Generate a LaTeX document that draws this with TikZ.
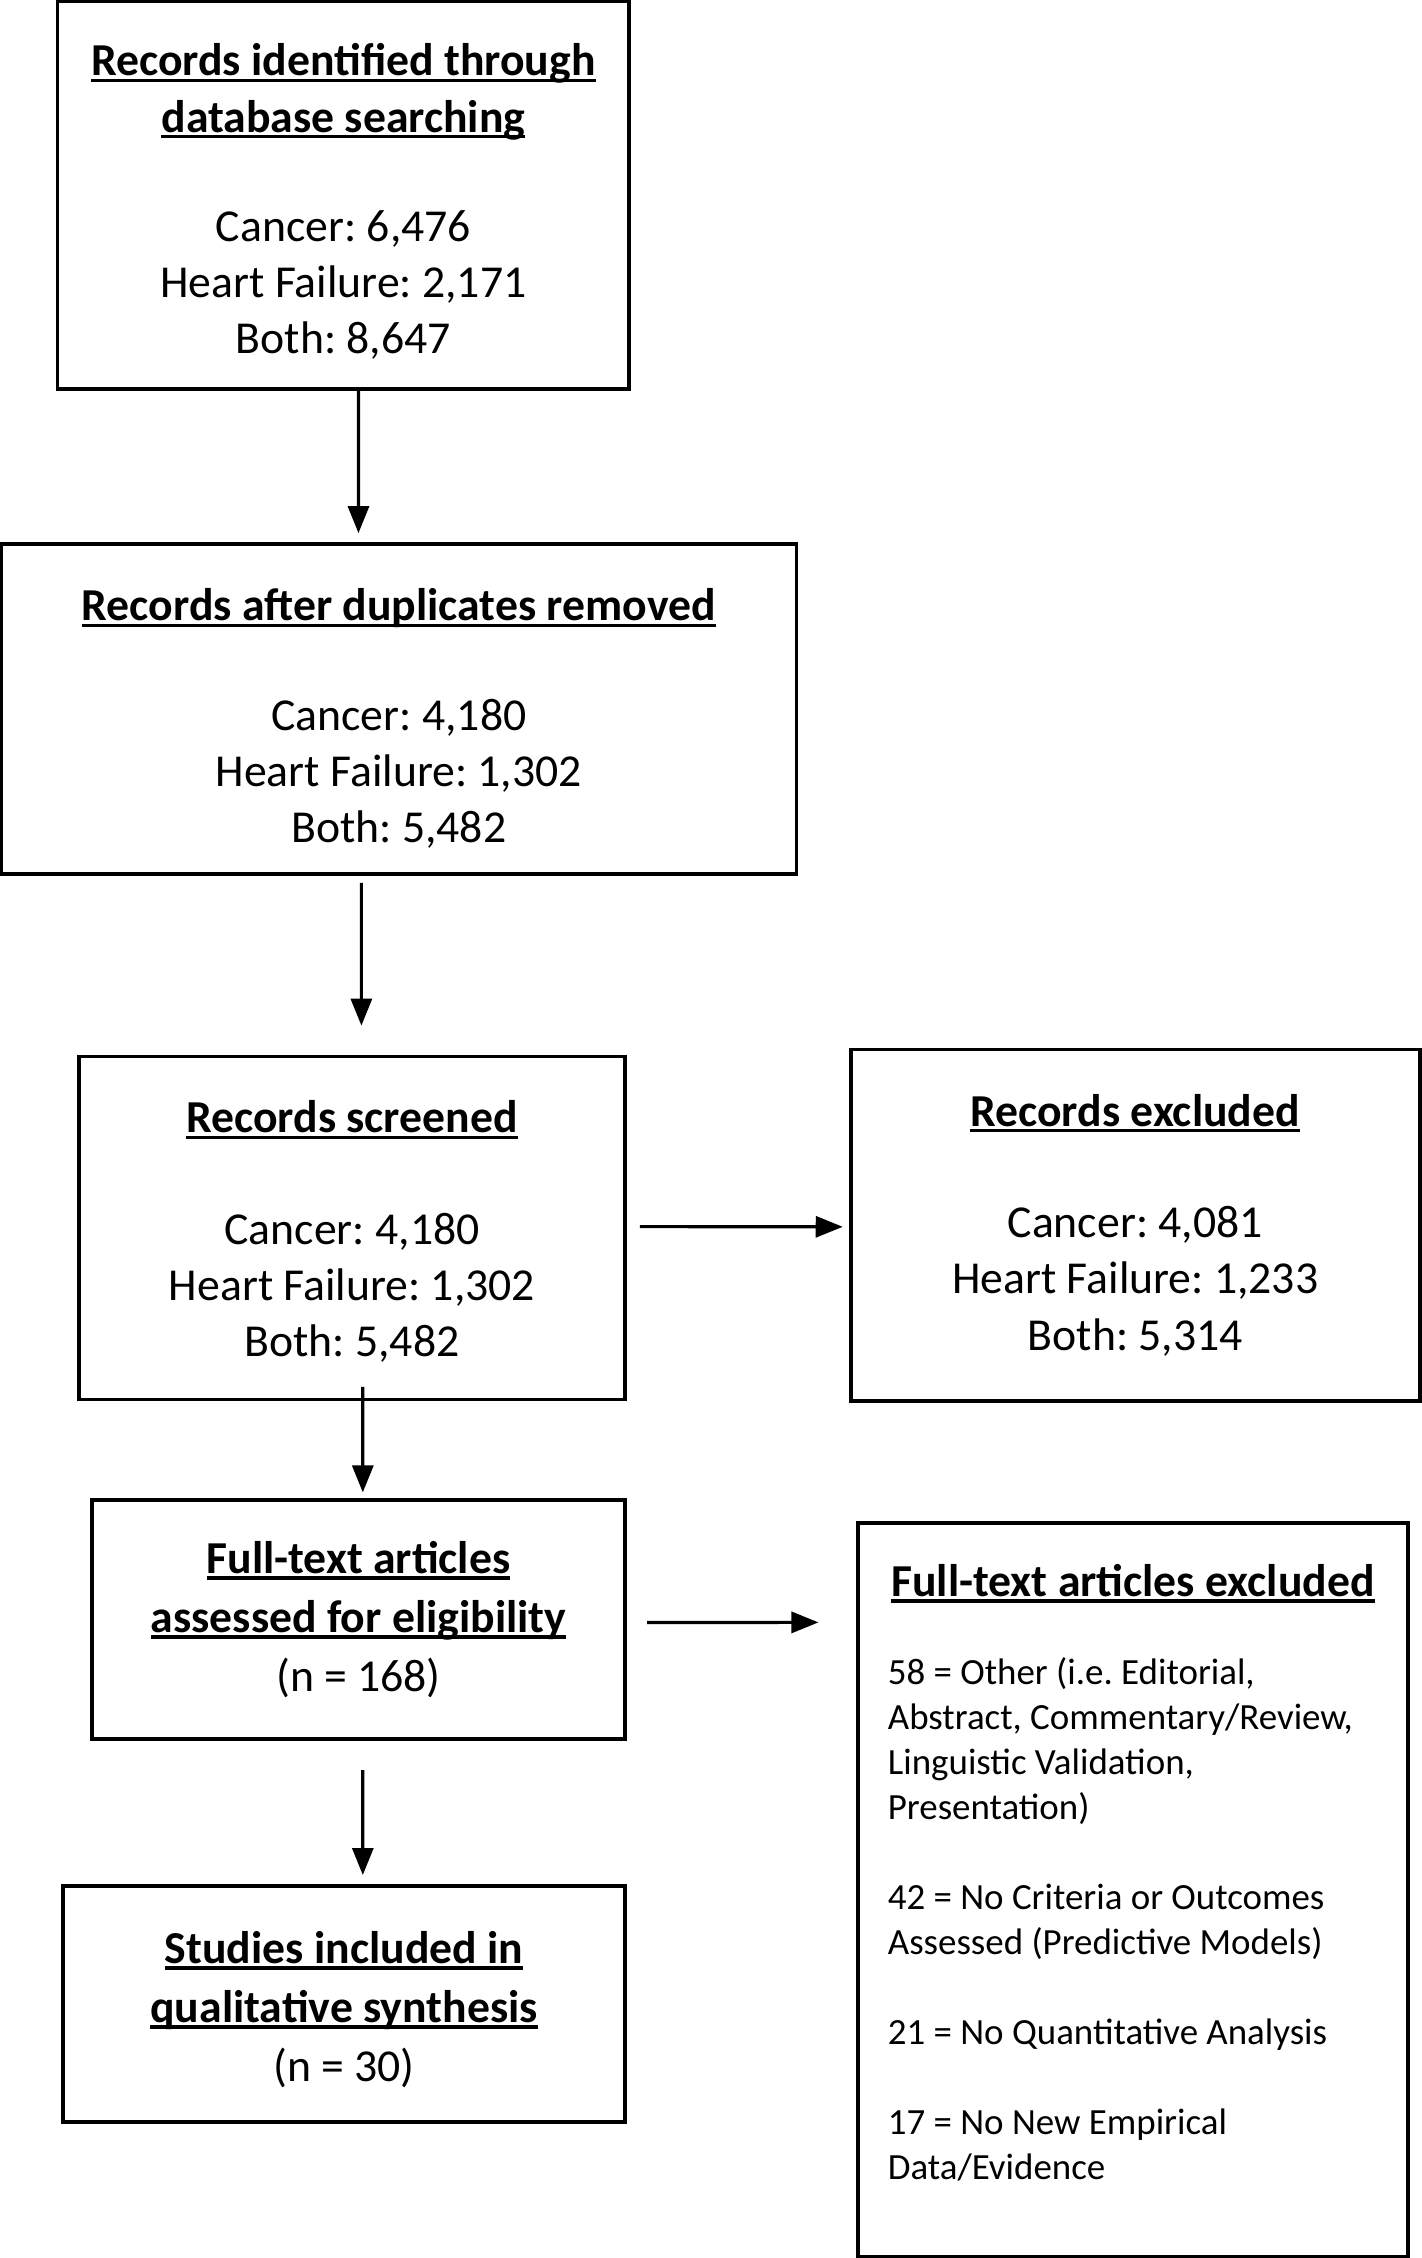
\documentclass[tikz,border=0pt]{standalone}
\usepackage{fontspec}
\setmainfont{Carlito}
\usetikzlibrary{arrows.meta,positioning}
\frenchspacing

% bold heading with a flat underline just under the baseline
\newcommand{\hdr}[1]{\setbox0\hbox{\bfseries #1}\rlap{\rule[-1.7pt]{\wd0}{0.9pt}}\box0}
% invisible strut to push a box's text down a little
\newcommand{\tp}[1]{\rule{0pt}{#1}}

\begin{document}
\begin{tikzpicture}[
    x=0.01cm, y=-0.01cm,
    box/.style={draw, line width=1.1pt, inner sep=0pt, align=center,
        font=\fontsize{13}{16}\selectfont},
    tallbox/.style={box, font=\fontsize{13}{16.8}\selectfont},
    listbox/.style={box, align=flush left, text width=4.9cm,
        font=\fontsize{10.5}{12.8}\selectfont},
    arr/.style={line width=0.9pt, -{Triangle[length=0.27cm, width=0.21cm]}}]

\useasboundingbox (0,0) rectangle (1421,2258);

% left column
\node[box, minimum width=5.715cm, minimum height=3.873cm] (ident) at (343.4,195.0)
    {\tp{13pt}\hdr{Records identified through}\\ \hdr{database searching}\\[0.53cm]
     Cancer: 6,476\\ Heart Failure: 2,171\\ Both: 8,647};
\node[box, minimum width=7.948cm, minimum height=3.297cm] (dedup) at (398.8,709.0)
    {\tp{14.6pt}\hdr{Records after duplicates removed}\\[0.53cm]
     Cancer: 4,180\\ Heart Failure: 1,302\\ Both: 5,482};
\node[box, minimum width=5.456cm, minimum height=3.427cm] (screen) at (352.0,1228.0)
    {\tp{11.2pt}\hdr{Records screened}\\[0.55cm]
     Cancer: 4,180\\ Heart Failure: 1,302\\ Both: 5,482};
\node[tallbox, minimum width=5.327cm, minimum height=2.39cm] (elig) at (358.5,1619.7)
    {\hdr{Full-text articles}\\ \hdr{assessed for eligibility}\\ (n = 168)};
\node[tallbox, minimum width=5.615cm, minimum height=2.36cm] (incl) at (344.0,2004.0)
    {\tp{12.4pt}\hdr{Studies included in}\\ \hdr{qualitative synthesis}\\ (n = 30)};

% right column
\node[box, minimum width=5.687cm, minimum height=3.513cm] (excl) at (1135.2,1225.2)
    {\hdr{Records excluded}\\[0.55cm]
     Cancer: 4,081\\ Heart Failure: 1,233\\ Both: 5,314};
\node[listbox, minimum width=5.5cm, minimum height=7.34cm] (ftexcl) at (1133.0,1890.0)
    {\makebox[4.9cm][c]{\fontsize{13}{16}\selectfont\hdr{Full-text articles excluded}}\\[12.2pt]
     58 = Other (i.e. Editorial,\\ Abstract, Commentary/Review,\\ Linguistic Validation,\\ Presentation)\\[12.8pt]
     42 = No Criteria or Outcomes\\ Assessed (Predictive Models)\\[12.8pt]
     21 = No Quantitative Analysis\\[12.8pt]
     17 = No New Empirical\\ Data/Evidence\rule[-0.36cm]{0pt}{0pt}};

% connectors
\draw[arr, shorten >=0.09cm] ([xshift=0.151cm]ident.south) -- ([xshift=-0.403cm]dedup.north);
\draw[arr, shorten <=0.07cm, shorten >=0.29cm] ([xshift=-0.374cm]dedup.south) -- ([xshift=0.094cm]screen.north);
\draw[arr, shorten <=0.13cm, shorten >=0.06cm] ([yshift=0.014cm]screen.east) -- ([yshift=-0.016cm]excl.west);
\draw[arr, shorten <=-0.144cm, shorten >=0.058cm] ([xshift=0.108cm]screen.south) -- ([xshift=0.043cm]elig.north);
\draw[arr, shorten <=0.202cm, shorten >=0.374cm] ([yshift=-0.028cm]elig.east) -- ([yshift=2.675cm]ftexcl.west);
\draw[arr, shorten <=0.288cm, shorten >=0.09cm] ([xshift=0.043cm]elig.south) -- ([xshift=0.188cm]incl.north);

\end{tikzpicture}
\end{document}
